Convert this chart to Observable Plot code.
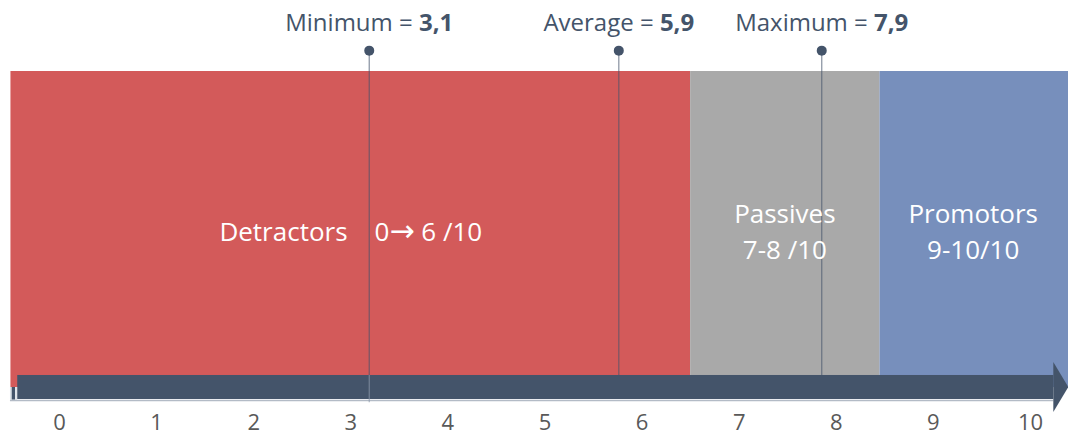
<!DOCTYPE html>
<html>
<head>
<meta charset="utf-8">
<script src="https://cdn.jsdelivr.net/npm/d3@7"></script>
<script src="https://cdn.jsdelivr.net/npm/@observablehq/plot@0.6"></script>
<style>
  html, body { margin: 0; padding: 0; background: #ffffff; }
  #chart svg { display: block; overflow: visible; }
</style>
</head>
<body>
<div id="chart"></div>
<script>
// ---- data ----
const segmentNames  = ["Detractors", "Passives", "Promotors"];
const segmentStart  = [-0.5, 6.5, 8.45];
const segmentEnd    = [6.5, 8.45, 10.4];
const segmentLabels = ["Detractors\u00a0\u00a0\u00a0\u00a00\u2192 6 /10", "Passives\n7-8 /10", "Promotors\n9-10/10"];
const segmentLabelX = [3.0, 7.47, 9.41];
const segmentColors = ["#d35a5a", "#a9a9a9", "#778fbc"];

const statNames    = ["Minimum", "Average", "Maximum"];
const statValues   = ["3,1", "5,9", "7,9"];
const statPosition = [3.19, 5.76, 7.85];

const tickValues = [0, 1, 2, 3, 4, 5, 6, 7, 8, 9, 10];

// ---- tables built from the arrays ----
const segments = segmentNames.map((name, i) => ({
  name, x1: segmentStart[i], x2: segmentEnd[i],
  label: segmentLabels[i], lx: segmentLabelX[i], color: segmentColors[i]
}));
const stats = statNames.map((name, i) => ({
  name, value: statValues[i], x: statPosition[i], text: `${name} = ${statValues[i]}`
}));

const slate = "#44546a";
const arrowEnd = 10.24, arrowTip = 10.395, arrowBodyStart = -0.43;
const head = [
  {x: arrowEnd, y1: -0.079, y2: 0.079},
  {x: arrowTip, y1: 0, y2: 0}
];
const tail = [
  {x1: -0.505, x2: -0.487, fill: "#dfe3e8"},
  {x1: -0.487, x2: -0.452, fill: slate},
  {x1: -0.452, x2: -0.431, fill: "#dfe3e8"}
];

const chart = Plot.plot({
  width: 1068,
  height: 437,
  marginTop: 0, marginLeft: 0, marginRight: 0, marginBottom: 23,
  style: {fontFamily: "'Open Sans', sans-serif", background: "#ffffff", overflow: "visible"},
  x: {domain: [0, 10], range: [59, 1030]},
  y: {domain: [0, 1], range: [387, 71], axis: null},
  marks: [
    Plot.rect(segments, {x1: "x1", x2: "x2", y1: 0, y2: 1, fill: "color"}),
    Plot.ruleX(stats, {x: "x", y1: 1.066, y2: 0.03, stroke: slate, strokeOpacity: 0.6, strokeWidth: 1.3}),
    Plot.text(segments, {x: "lx", y: 0.5, text: "label", fill: "#ffffff", fontSize: 26, lineHeight: 1.373, textAnchor: "middle", className: "seg-label"}),
    Plot.rect(tail, {x1: "x1", x2: "x2", y1: -0.04, y2: 0, fill: "fill"}),
    Plot.ruleY([-0.041], {x1: -0.505, x2: arrowEnd, stroke: "#b3bbc6", strokeWidth: 1.5}),
    Plot.rect([0], {x1: arrowBodyStart, x2: arrowEnd, y1: -0.038, y2: 0.038, fill: slate}),
    Plot.areaY(head, {x: "x", y1: "y1", y2: "y2", fill: slate, curve: "linear"}),
    Plot.ruleX(stats.filter(d => d.name === "Minimum"), {x: "x", y1: 0.038, y2: -0.048, stroke: "#8a96a8", strokeOpacity: 0.7, strokeWidth: 1.2}),
    Plot.dot(stats, {x: "x", y: 1.066, r: 5, fill: slate, stroke: null}),
    Plot.text(stats, {x: "x", y: 1.152, text: "text", fill: slate, fontSize: 24, textAnchor: "middle", className: "stat-label"}),
    Plot.axisX({ticks: tickValues, tickSize: 0, tickPadding: 0, fontSize: 22, fill: "#595959", label: null, tickFormat: d => String(d)})
  ]
});

// make the value part of each stat label bold
d3.select(chart).selectAll(".stat-label text").each(function() {
  const t = this.textContent;
  const idx = t.lastIndexOf("= ");
  if (idx >= 0) {
    const pre = t.slice(0, idx + 2), val = t.slice(idx + 2);
    const el = d3.select(this);
    el.text(null);
    el.append("tspan").text(pre);
    el.append("tspan").attr("font-weight", "bold").text(val);
  }
});

// render the arrow glyph in a font that has a full-size arrow
d3.select(chart).selectAll(".seg-label text").each(function() {
  const t = this.textContent;
  const i = t.indexOf("\u2192");
  if (i >= 0 && this.children.length === 0) {
    const el = d3.select(this);
    el.text(null);
    el.append("tspan").text(t.slice(0, i));
    el.append("tspan").attr("font-family", "'DejaVu Sans'").attr("font-size", 30).text("\u2192");
    el.append("tspan").text(t.slice(i + 1));
  }
});

document.getElementById("chart").appendChild(chart);
</script>
</body>
</html>
